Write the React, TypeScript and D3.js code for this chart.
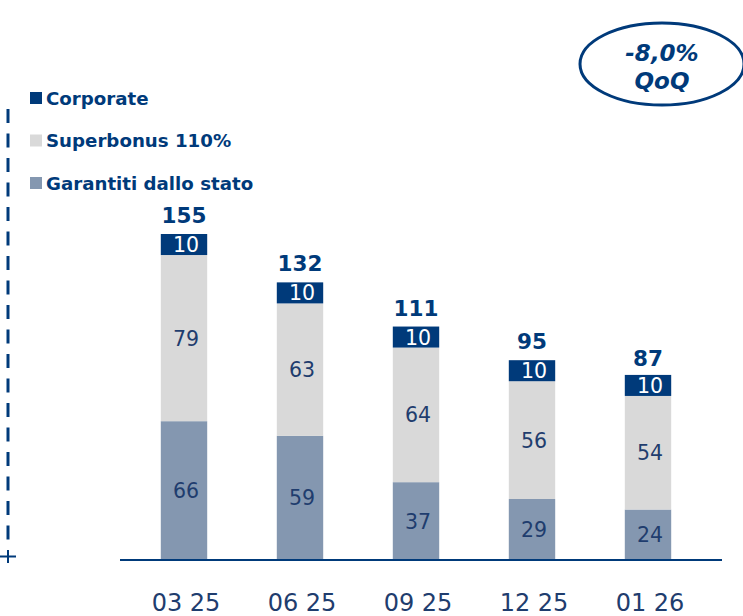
import React from "react";
import * as d3 from "d3";

const categories = ["03 25", "06 25", "09 25", "12 25", "01 26"];
const garantiti = [66, 59, 37, 29, 24];
const superbonus = [79, 63, 64, 56, 54];
const corporate = [10, 10, 10, 10, 10];
const totals = [155, 132, 111, 95, 87];
const seriesNames = ["Corporate", "Superbonus 110%", "Garantiti dallo stato"];
const badgeLines = ["-8,0%", "QoQ"];

const W = 743;
const H = 616;
const NAVY = "#003a7a";
const TEXT = "#1f3d6e";
const colors = { corporate: "#003a7a", superbonus: "#d9d9d9", garantiti: "#8497b0" };
const FONT = "Verdana, 'DejaVu Sans', sans-serif";

export default function App() {
  const baseline = 560;
  const x = d3.scaleBand<string>().domain(categories).range([126, 706]).paddingInner(0.6).paddingOuter(0.3);
  const y = d3.scaleLinear().domain([0, 155]).range([baseline, 234]);

  const rows = categories.map((c, i) => ({ c, g: garantiti[i], s: superbonus[i], k: corporate[i], t: totals[i] }));
  const stack = d3.stack<any>().keys(["g", "s", "k"])(rows as any);
  const fills = [colors.garantiti, colors.superbonus, colors.corporate];
  const textFills = [TEXT, TEXT, "#ffffff"];
  const legendColors = [colors.corporate, colors.superbonus, colors.garantiti];

  return (
    <svg width={W} height={H} style={{ position: "absolute", left: 0, top: 0, fontFamily: FONT }}>
      <rect width={W} height={H} fill="#ffffff" />
      {/* left dashed axis */}
      <line x1={8} x2={8} y1={109} y2={542} stroke={NAVY} strokeWidth={3} strokeDasharray="14 10.5" />
      <line x1={8} x2={8} y1={550} y2={563} stroke={NAVY} strokeWidth={2} />
      <line x1={0} x2={16} y1={556.5} y2={556.5} stroke={NAVY} strokeWidth={2} />

      {/* legend */}
      {seriesNames.map((n, i) => (
        <g key={n} transform={`translate(30, ${98 + i * 42.5})`}>
          <rect x={0} y={-6} width={12} height={12} fill={legendColors[i]} />
          <text x={16} y={6.5} fontSize={18.2} fontWeight="bold" fill={NAVY}>{n}</text>
        </g>
      ))}

      {/* bars */}
      {stack.map((layer, li) => (
        <g key={li}>
          {layer.map((d, i) => {
            const x0 = x(categories[i])!;
            const y0 = y(d[1]);
            const h = y(d[0]) - y(d[1]);
            const v = d[1] - d[0];
            return (
              <g key={i}>
                <rect x={x0} y={y0} width={x.bandwidth()} height={h} fill={fills[li]} />
                <text x={x0 + x.bandwidth() / 2 + 2} y={y0 + h / 2 + 7.5} textAnchor="middle" fontSize={20.5} fill={textFills[li]}>{v}</text>
              </g>
            );
          })}
        </g>
      ))}

      {/* totals */}
      {rows.map((r, i) => (
        <text key={r.c} x={x(r.c)! + x.bandwidth() / 2} y={y(r.t) - 11} textAnchor="middle" fontSize={21.5} fontWeight="bold" fill={NAVY}>{r.t}</text>
      ))}

      {/* baseline */}
      <line x1={120} x2={722} y1={baseline} y2={baseline} stroke={NAVY} strokeWidth={2} />

      {/* x labels */}
      {categories.map((c) => (
        <text key={c} x={x(c)! + x.bandwidth() / 2 + 2} y={611} textAnchor="middle" fontSize={24} fill={TEXT}>{c}</text>
      ))}

      {/* badge */}
      <ellipse cx={662} cy={64} rx={82} ry={41} fill="none" stroke={NAVY} strokeWidth={3} />
      <text x={662} y={61} textAnchor="middle" fontSize={23} fontWeight="bold" fontStyle="italic" fill={NAVY}>{badgeLines[0]}</text>
      <text x={662} y={89} textAnchor="middle" fontSize={23} fontWeight="bold" fontStyle="italic" fill={NAVY}>{badgeLines[1]}</text>
    </svg>
  );
}
